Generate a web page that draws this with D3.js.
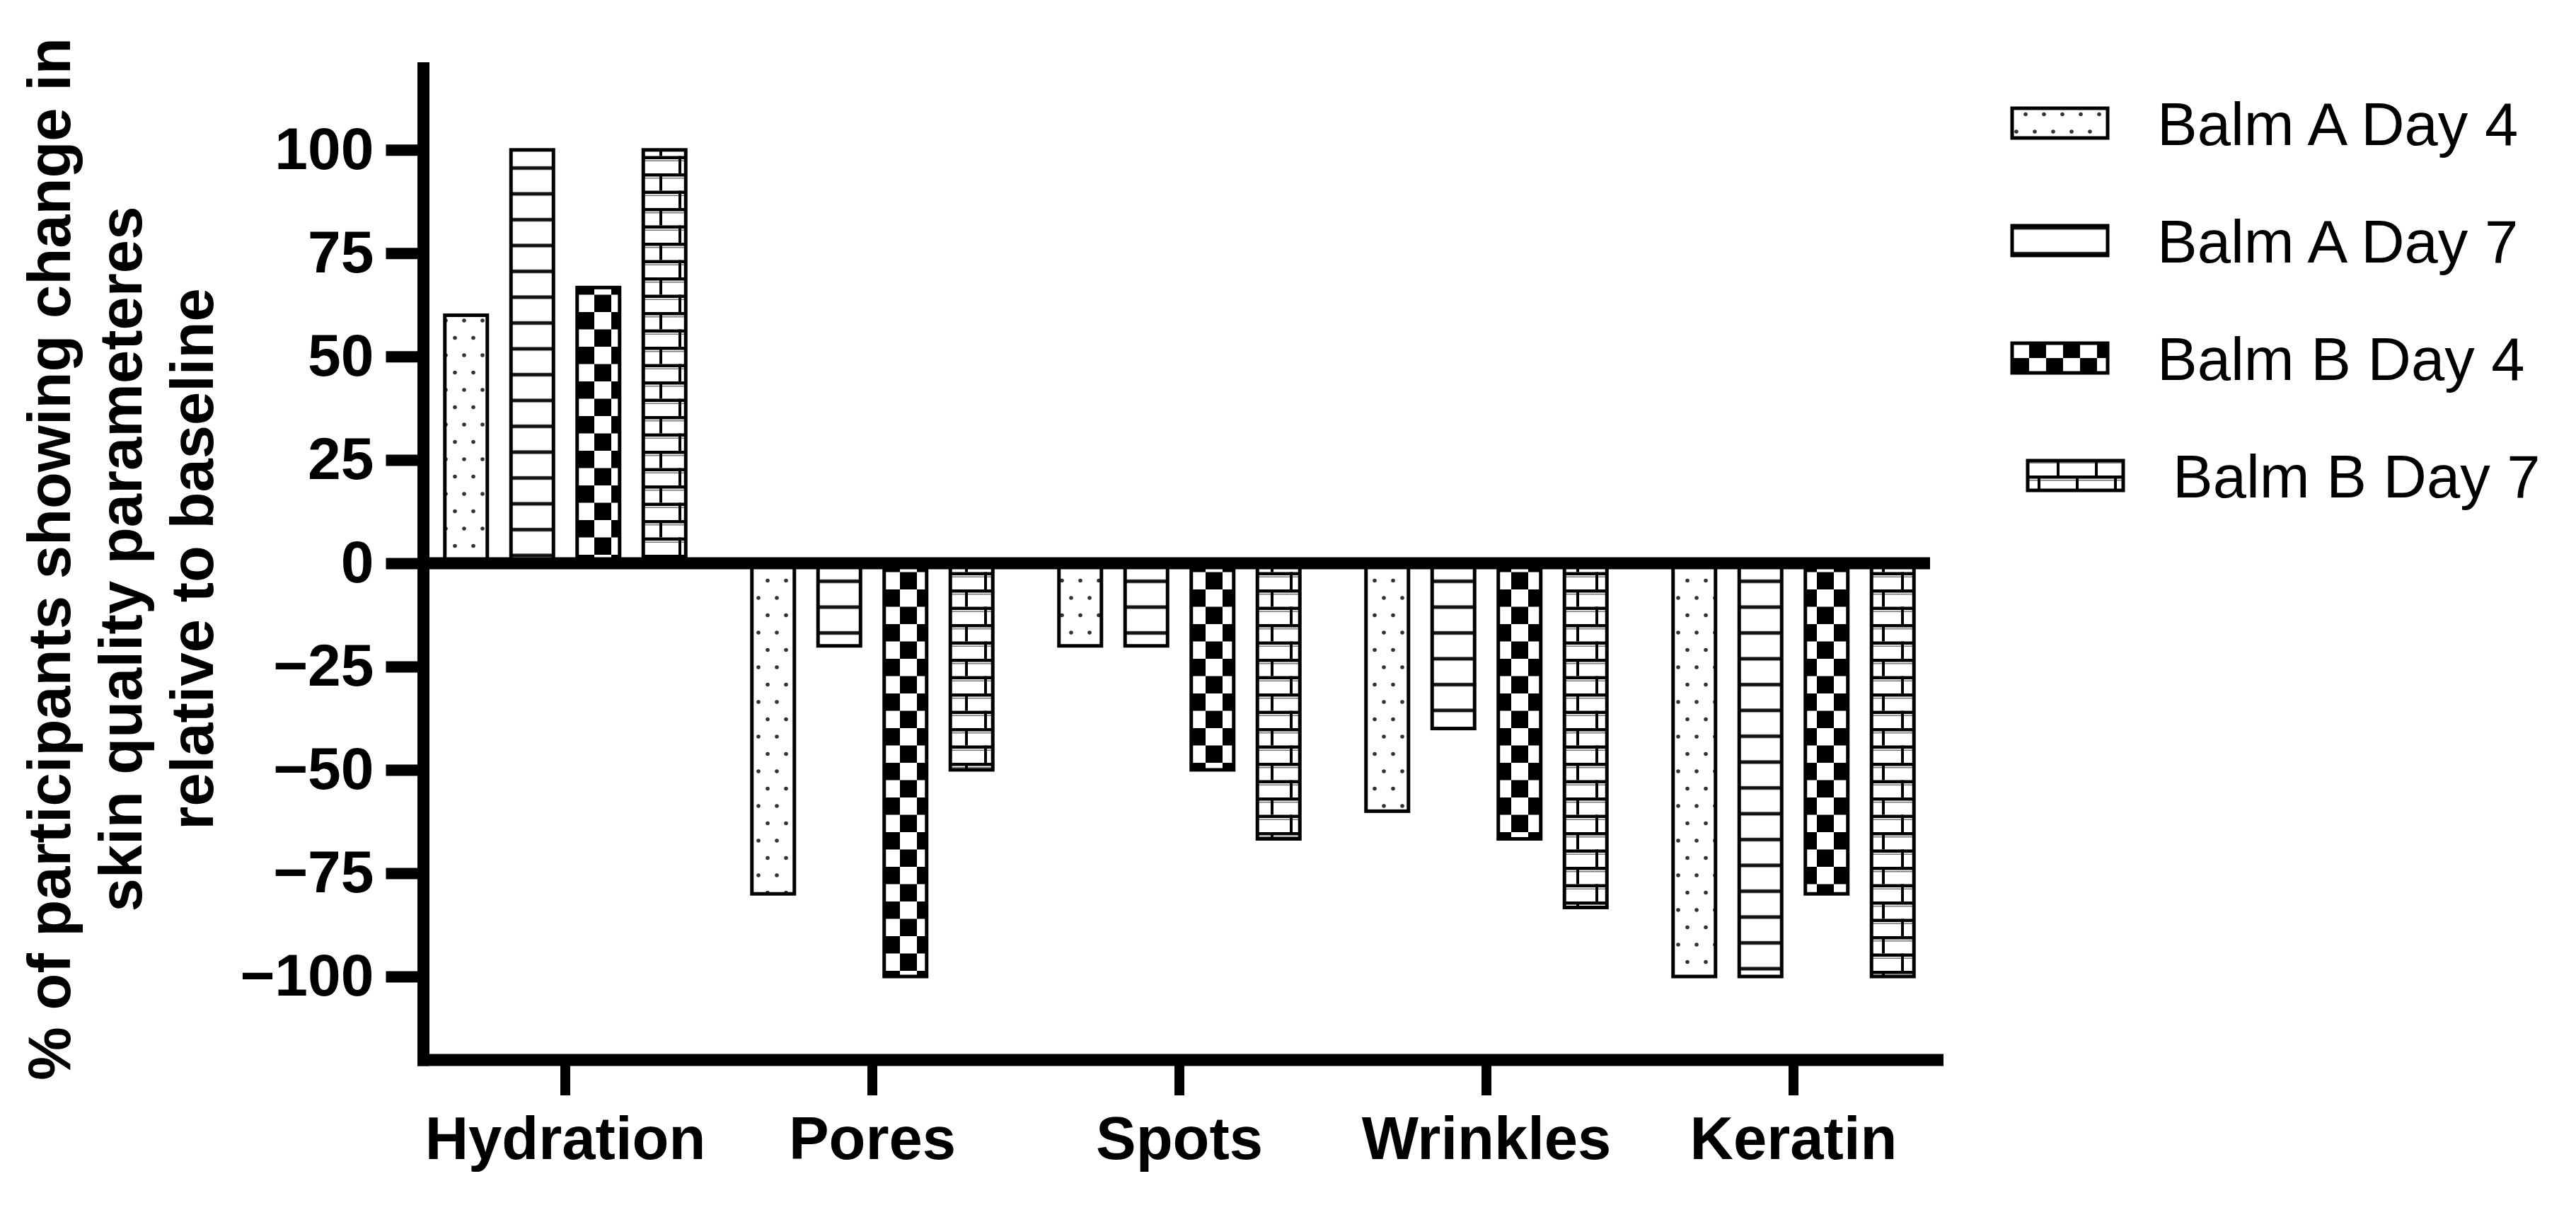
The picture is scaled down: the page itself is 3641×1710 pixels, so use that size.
<!DOCTYPE html>
<html>
<head>
<meta charset="utf-8">
<script src="https://cdn.jsdelivr.net/npm/d3@7"></script>
<style>
  body { margin:0; background:#fff; }
  text { font-family:'Liberation Sans', Arial, sans-serif; fill:#000; }
  .tickLabel { font-size:84px; font-weight:bold; }
  .catLabel { font-size:85px; font-weight:bold; }
  .yTitle { font-size:85px; font-weight:bold; }
  .legendText { font-size:85px; }
  .bar { stroke:#000; stroke-width:5; }
</style>
</head>
<body>
<svg id="viewer"></svg>
<script>
var categories = ['Hydration','Pores','Spots','Wrinkles','Keratin'];
var seriesNames = ['Balm A Day 4','Balm A Day 7','Balm B Day 4','Balm B Day 7'];
var balmADay4 = [60, -80, -20, -60, -100];
var balmADay7 = [100, -20, -20, -40, -100];
var balmBDay4 = [66.7, -100, -50, -66.7, -80];
var balmBDay7 = [100, -50, -66.7, -83.3, -100];
var yTicks = [-100, -75, -50, -25, 0, 25, 50, 75, 100];
var yTitleLines = ['% of participants showing change in','skin quality parameteres','relative to baseline'];

var seriesValues = [balmADay4, balmADay7, balmBDay4, balmBDay7];
var patternIds = ['dots','hlines','checker','brick'];

var viewer = d3.select('#viewer')
  .attr('width',3641)
  .attr('height',1710);

// fill patterns
var defs = viewer.append('defs');

var dots = defs.append('pattern')
  .attr('id','dots')
  .attr('patternUnits','userSpaceOnUse')
  .attr('width',26)
  .attr('height',49);
dots.append('rect').attr('width',26).attr('height',49).attr('fill','#fff');
dots.append('circle').attr('cx',6).attr('cy',12).attr('r',2.8).attr('fill','#333');
dots.append('circle').attr('cx',19).attr('cy',36.5).attr('r',2.8).attr('fill','#333');

var hlines = defs.append('pattern')
  .attr('id','hlines')
  .attr('patternUnits','userSpaceOnUse')
  .attr('width',40)
  .attr('height',36.5);
hlines.append('rect').attr('width',40).attr('height',36.5).attr('fill','#fff');
hlines.append('rect').attr('y',16).attr('width',40).attr('height',5).attr('fill','#111');

var checker = defs.append('pattern')
  .attr('id','checker')
  .attr('patternUnits','userSpaceOnUse')
  .attr('width',48)
  .attr('height',49);
checker.append('rect').attr('width',48).attr('height',49).attr('fill','#fff');
checker.append('rect').attr('x',0).attr('y',0).attr('width',24).attr('height',24.5).attr('fill','#000');
checker.append('rect').attr('x',24).attr('y',24.5).attr('width',24).attr('height',24.5).attr('fill','#000');

var brick = defs.append('pattern')
  .attr('id','brick')
  .attr('patternUnits','userSpaceOnUse')
  .attr('width',54)
  .attr('height',49);
brick.append('rect').attr('width',54).attr('height',49).attr('fill','#fff');
brick.append('rect').attr('y',0).attr('width',54).attr('height',4.5).attr('fill','#000');
brick.append('rect').attr('y',24.5).attr('width',54).attr('height',4.5).attr('fill','#000');
brick.append('rect').attr('y',6).attr('width',54).attr('height',1.5).attr('fill','#777');
brick.append('rect').attr('y',30.5).attr('width',54).attr('height',1.5).attr('fill','#777');
brick.append('rect').attr('x',14).attr('y',0).attr('width',4).attr('height',24.5).attr('fill','#000');
brick.append('rect').attr('x',41).attr('y',24.5).attr('width',4).attr('height',24.5).attr('fill','#000');

// scales
var x0 = d3.scaleBand()
  .domain(categories)
  .range([582,2752])
  .padding(0);

var x1 = d3.scaleBand()
  .domain(seriesNames)
  .range([0,x0.bandwidth()])
  .paddingInner(0.358)
  .paddingOuter(0.5);

var y = d3.scaleLinear()
  .domain([-120.2,121.2])
  .range([1498,88]);

// bars
var rows = [];
categories.forEach(function(c,i){
  seriesNames.forEach(function(s,j){
    rows.push({cat:c,series:s,value:seriesValues[j][i],pattern:patternIds[j]});
  });
});

viewer.append('g').selectAll('.bar')
  .data(rows)
  .enter().append('rect')
    .attr('class','bar')
    .attr('x',function(d){return x0(d.cat)+x1(d.series);})
    .attr('width',x1.bandwidth())
    .attr('y',function(d){return y(Math.max(0,d.value));})
    .attr('height',function(d){return Math.abs(y(d.value)-y(0));})
    .attr('fill',function(d){return 'url(#'+d.pattern+')';});

// zero line
viewer.append('line')
  .attr('x1',590)
  .attr('x2',2728)
  .attr('y1',y(0))
  .attr('y2',y(0))
  .style('stroke','#000')
  .style('stroke-width',17);

// y axis
var yAxis = viewer.append('g')
  .attr('transform','translate(598.5,0)')
  .call(d3.axisLeft(y)
    .tickValues(yTicks)
    .tickSize(53)
    .tickSizeOuter(0)
    .tickPadding(17)
    .tickFormat(function(d){return d<0 ? '\u2212'+Math.abs(d) : d;}));
yAxis.select('.domain').remove();
yAxis.attr('font-size',null).attr('font-family',null);
yAxis.selectAll('.tick line').style('stroke','#000').style('stroke-width',16);
yAxis.selectAll('.tick text')
  .attr('class','tickLabel')
  .attr('fill','#000');

viewer.append('line')
  .attr('x1',598.5)
  .attr('x2',598.5)
  .attr('y1',y.range()[1])
  .attr('y2',y.range()[0]+8.5)
  .style('stroke','#000')
  .style('stroke-width',17);

// x axis
var xAxis = viewer.append('g')
  .attr('transform','translate(0,'+y.range()[0]+')')
  .call(d3.axisBottom(x0)
    .tickSize(50)
    .tickSizeOuter(0)
    .tickPadding(30));
xAxis.select('.domain').remove();
xAxis.attr('font-size',null).attr('font-family',null);
xAxis.selectAll('.tick line').style('stroke','#000').style('stroke-width',14);
xAxis.selectAll('.tick text')
  .attr('class','catLabel')
  .attr('fill','#000')
  .attr('dy','0.71em');

viewer.append('line')
  .attr('x1',590)
  .attr('x2',2747)
  .attr('y1',y.range()[0])
  .attr('y2',y.range()[0])
  .style('stroke','#000')
  .style('stroke-width',17);

// y title
viewer.append('g')
  .attr('transform','translate(0,790) rotate(-90)')
  .selectAll('text')
  .data(yTitleLines)
  .enter().append('text')
    .attr('class','yTitle')
    .attr('text-anchor','middle')
    .attr('x',0)
    .attr('y',function(d,i){return 99+i*101;})
    .text(function(d){return d;});

// legend
var legendShift = [0,0,0,22];
var legend = viewer.selectAll('.legendItem')
  .data(seriesNames)
  .enter().append('g')
    .attr('class','legendItem')
    .attr('transform',function(d,i){return 'translate('+(2844+legendShift[i])+','+(174+i*166)+')';});

legend.append('rect')
  .attr('class','bar')
  .attr('x',0)
  .attr('y',-21)
  .attr('width',135)
  .attr('height',42)
  .attr('fill',function(d,i){return 'url(#'+patternIds[i]+')';});

legend.append('text')
  .attr('class','legendText')
  .attr('x',205)
  .attr('y',0)
  .attr('dy','0.36em')
  .text(function(d){return d;});
</script>
</body>
</html>
